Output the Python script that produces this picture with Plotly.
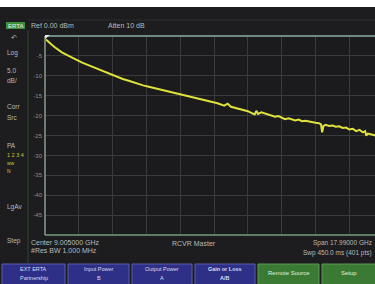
import plotly.graph_objects as go

# ---- data ----
freq_ghz = [0.06, 0.19, 0.37, 0.55, 0.73, 0.91, 1.27, 1.63, 1.99, 2.35, 2.71, 3.07, 3.43, 3.79,
            4.15, 4.51, 4.87, 5.23, 5.59, 5.95, 6.31, 6.67, 7.03, 7.39, 7.75, 8.11, 8.47, 8.83,
            9.19, 9.55, 9.73, 9.91, 10.27, 10.63, 10.81, 10.99, 11.17, 11.26, 11.35, 11.53, 11.71,
            11.89, 12.07, 12.25, 12.43, 12.61, 12.79, 12.97, 13.15, 13.33, 13.51, 13.69, 13.87,
            14.05, 14.23, 14.41, 14.59, 14.70, 14.76, 14.83, 14.95, 15.13, 15.31, 15.49, 15.67,
            15.85, 16.03, 16.21, 16.39, 16.57, 16.75, 16.93, 17.05, 17.11, 17.20, 17.29, 17.47,
            17.65, 17.83, 18.00]
gain_db = [-0.9, -1.5, -2.2, -2.9, -3.5, -4.1, -5.0, -5.9, -6.7, -7.4, -8.1, -8.8, -9.5, -10.1,
           -10.8, -11.3, -11.9, -12.4, -12.8, -13.2, -13.6, -14.0, -14.5, -14.9, -15.3, -15.8, -16.2, -16.6,
           -16.9, -17.5, -17.0, -17.8, -18.2, -18.7, -18.9, -19.3, -19.7, -18.8, -19.6, -19.2, -19.5,
           -19.6, -20.0, -20.3, -20.1, -20.6, -20.9, -20.7, -21.0, -21.2, -21.0, -21.4, -21.3,
           -21.5, -21.7, -21.8, -21.9, -22.2, -24.2, -22.6, -22.3, -22.6, -22.5, -22.8, -22.7,
           -23.1, -23.0, -23.5, -23.3, -23.9, -23.6, -24.2, -23.9, -25.0, -24.5, -24.6, -24.9,
           -25.1, -25.3, -25.5]

y_tick_vals = [0, -5, -10, -15, -20, -25, -30, -35, -40, -45, -50]
y_tick_text = ["", "-5", "-10", "-15", "-20", "-25", "-30", "-35", "-40", "-45", ""]

start_ghz = 0.01
div_ghz = 1.799

side_labels = [("Log", 53), ("5.0", 70), ("dB/", 80), ("Corr", 106), ("Src", 117),
               ("PA", 145), ("LgAv", 207), ("Step", 241)]
button_labels = [("EXT ERTA", "Partnership"), ("Input Power", "B"), ("Output Power", "A"),
                 ("<b>Gain or Loss</b>", "<b>A/B</b>"), ("Remote Source", ""), ("Setup", "")]
button_edges = [(2, 65), (68, 129), (132, 192), (195, 255), (258, 319), (322, 376)]
button_colors = ["#2e2f86", "#2e2f86", "#2e2f86", "#2e2f86", "#3b7a34", "#3b7a34"]

# ---- layout geometry ----
W, H = 375, 284
L, T, B = 45, 36, 235
PW, PH = W - L, B - T
px_per_div = 33.8


def px(x):
    return (x - L) / PW


def py(y):
    return (B - y) / PH


x_hi = start_ghz + PW / px_per_div * div_ghz

fig = go.Figure()
fig.add_trace(go.Scatter(x=freq_ghz, y=gain_db, mode="lines",
                         line=dict(color="#dfe23c", width=2), hoverinfo="skip"))

shapes = []
annos = []
txt = "#b9bbb8"
font = "Liberation Sans, Arial, sans-serif"

# top white strip
shapes.append(dict(type="rect", xref="paper", yref="paper", x0=px(0), x1=px(W), y0=py(0), y1=py(7),
                   fillcolor="white", line_width=0, layer="below"))
# sidebar separator
shapes.append(dict(type="line", xref="paper", yref="paper", x0=px(28), x1=px(28), y0=py(30), y1=py(263),
                   line=dict(color="#2e4630", width=1)))
# faint header line
shapes.append(dict(type="line", xref="paper", yref="paper", x0=px(28), x1=px(W), y0=py(20), y1=py(20),
                   line=dict(color="#2a2c2c", width=1)))
# top & bottom borders
shapes.append(dict(type="line", xref="paper", yref="paper", x0=0, x1=1, y0=1, y1=1,
                   line=dict(color="#6d8b80", width=2)))
shapes.append(dict(type="line", xref="paper", yref="paper", x0=0, x1=1, y0=0, y1=0,
                   line=dict(color="#5f7d63", width=2)))
shapes.append(dict(type="line", xref="paper", yref="paper", x0=0, x1=0, y0=0, y1=1,
                   line=dict(color="#8d9b92", width=1.5)))
# ref marker
shapes.append(dict(type="path", xref="paper", yref="paper",
                   path=f"M {px(45)} {py(35)} L {px(50)} {py(35)} L {px(45)} {py(39)} Z",
                   fillcolor="#e8e8e8", line_width=0))
# ERTA box
shapes.append(dict(type="rect", xref="paper", yref="paper", x0=px(6), x1=px(25), y0=py(22), y1=py(29),
                   fillcolor="#3f8f3f", line_width=0))
annos.append(dict(x=px(15.5), y=py(25.5), text="ERTA", font=dict(size=6, color="#e8f0e8", family=font)))
annos.append(dict(x=px(30), y=py(25.5), text="Ref 0.00 dBm", xanchor="left",
                  font=dict(size=7, color=txt, family=font)))
annos.append(dict(x=px(107), y=py(25.5), text="Atten 10 dB", xanchor="left",
                  font=dict(size=7, color=txt, family=font)))
annos.append(dict(x=px(14), y=py(38), text="↶", font=dict(size=7, color=txt, family="DejaVu Sans")))

for lab, yy in side_labels:
    annos.append(dict(x=px(6), y=py(yy), text=lab, xanchor="left",
                      font=dict(size=6.5, color=txt, family=font)))
annos.append(dict(x=px(6), y=py(155), text="1 2 3 4", xanchor="left",
                  font=dict(size=5.5, color="#c9c83c", family=font)))
annos.append(dict(x=px(6), y=py(163), text="ww", xanchor="left",
                  font=dict(size=5, color="#c9c83c", family=font)))
annos.append(dict(x=px(6), y=py(171), text="N", xanchor="left",
                  font=dict(size=5, color="#c9c83c", family=font)))

# bottom info
annos.append(dict(x=px(30), y=py(242), text="Center 9.005000 GHz", xanchor="left",
                  font=dict(size=7, color=txt, family=font)))
annos.append(dict(x=px(30), y=py(251), text="#Res BW 1.000 MHz", xanchor="left",
                  font=dict(size=7, color=txt, family=font)))
annos.append(dict(x=px(194), y=py(243), text="RCVR Master",
                  font=dict(size=7, color=txt, family=font)))
annos.append(dict(x=px(373), y=py(243), text="Span 17.99000 GHz", xanchor="right",
                  font=dict(size=6.5, color=txt, family=font)))
annos.append(dict(x=px(373), y=py(253), text="Swp 450.0 ms (401 pts)", xanchor="right",
                  font=dict(size=6.5, color=txt, family=font)))

# buttons
for (l1, l2), (x0, x1), col in zip(button_labels, button_edges, button_colors):
    shapes.append(dict(type="rect", xref="paper", yref="paper", x0=px(x0), x1=px(x1), y0=py(264), y1=py(285),
                       fillcolor=col, line=dict(color="#5a5fb0" if col == "#2e2f86" else "#5e9a55", width=1)))
    cx = px((x0 + x1) / 2)
    if l2:
        annos.append(dict(x=cx, y=py(269), text=l1, font=dict(size=5.5, color="#dcdcf0", family=font)))
        annos.append(dict(x=cx, y=py(277.5), text=l2, font=dict(size=5.5, color="#dcdcf0", family=font)))
    else:
        annos.append(dict(x=cx, y=py(273), text=l1, font=dict(size=6, color="#e0f0dc", family=font)))

for a in annos:
    a.setdefault("xref", "paper")
    a.setdefault("yref", "paper")
    a.setdefault("showarrow", False)
    a.setdefault("xanchor", "center")
    a.setdefault("yanchor", "middle")
    a.setdefault("borderpad", 0)

fig.update_layout(
    width=W, height=H, autosize=False,
    margin=dict(l=L, r=0, t=T, b=H - B, pad=0),
    paper_bgcolor="#1d1d1f", plot_bgcolor="#1b1b1d",
    showlegend=False,
    shapes=shapes, annotations=annos,
    xaxis=dict(range=[start_ghz, x_hi], tick0=start_ghz, dtick=div_ghz, showticklabels=False,
               showgrid=True, gridcolor="#3a3b3c", gridwidth=1, zeroline=False, showline=False, ticks=""),
    yaxis=dict(range=[-50, 0], tickvals=y_tick_vals, ticktext=y_tick_text, showgrid=True,
               gridcolor="#3a3b3c", gridwidth=1, zeroline=False, showline=False, ticks="",
               tickfont=dict(size=6, color="#8e9090", family=font), ticklabelstandoff=2),
)

fig.write_html("out.html", config={"displayModeBar": False},
               post_script="document.body.style.margin='0';document.body.style.overflow='hidden';")
